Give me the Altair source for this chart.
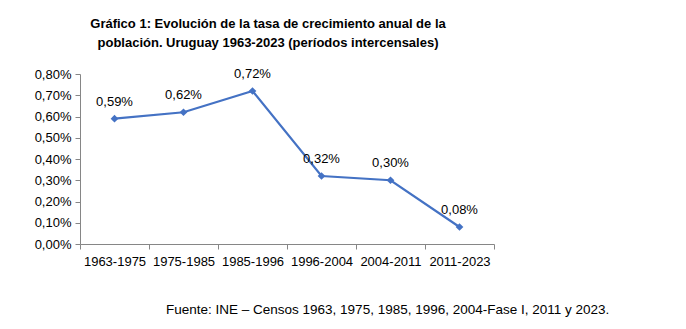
import altair as alt
import pandas as pd

periods = ["1963-1975", "1975-1985", "1985-1996", "1996-2004", "2004-2011", "2011-2023"]
rates = [0.0059, 0.0062, 0.0072, 0.0032, 0.0030, 0.0008]
labels = ["0,59%", "0,62%", "0,72%", "0,32%", "0,30%", "0,08%"]

title_lines = ["Gráfico 1: Evolución de la tasa de crecimiento anual de la",
               "población.  Uruguay 1963-2023  (períodos intercensales)"]
footer = "Fuente: INE – Censos 1963,   1975,  1985,  1996,  2004-Fase  I, 2011  y 2023."

df = pd.DataFrame({"periodo": periods, "tasa": rates, "etiqueta": labels})

FONT = "Liberation Sans"
COLOR = "#4472C4"

x = alt.X("periodo:N", sort=periods, title=None,
          scale=alt.Scale(paddingInner=0, paddingOuter=0),
          axis=alt.Axis(labelAngle=0, tickBand="extent", domainColor="#868686",
                        tickColor="#868686", tickSize=5, labelFontSize=13,
                        labelFont=FONT, labelColor="#000000", labelPadding=6))
y = alt.Y("tasa:Q", title=None,
          scale=alt.Scale(domain=[0, 0.008], nice=False),
          axis=alt.Axis(values=[i / 1000 for i in range(9)], grid=False,
                        labelExpr="replace(format(datum.value, '.2%'), '.', ',')",
                        domainColor="#868686", tickColor="#868686", tickSize=5,
                        labelFontSize=13, labelFont=FONT, labelColor="#000000",
                        labelPadding=4))

base = alt.Chart(df)
line = base.mark_line(color=COLOR, strokeWidth=2.2).encode(x=x, y=y)
pts = base.mark_point(shape="diamond", filled=True, color=COLOR, size=60, opacity=1).encode(x=x, y=y)
txt = base.mark_text(dy=-17, fontSize=13, font=FONT, color="#000000").encode(
    x=x, y=y, text="etiqueta:N")

foot = alt.Chart(pd.DataFrame({"t": [footer]})).mark_text(
    align="left", baseline="middle", fontSize=13.5, font=FONT, color="#000000"
).encode(x=alt.value(86), y=alt.value(236), text="t:N")

chart = alt.layer(line, pts, txt, foot).properties(
    width=414, height=170,
    title=alt.TitleParams(text=title_lines, fontSize=13, font=FONT, fontWeight="bold",
                          color="#000000", anchor="middle", dx=-19, offset=18,
                          lineHeight=19),
    autosize=alt.AutoSizeParams(type="none"),
    padding={"left": 80, "top": 74, "right": 192, "bottom": 85},
    background="white",
).configure_view(stroke=None)

chart.save("out.html", embed_options={"renderer": "svg", "actions": False})
